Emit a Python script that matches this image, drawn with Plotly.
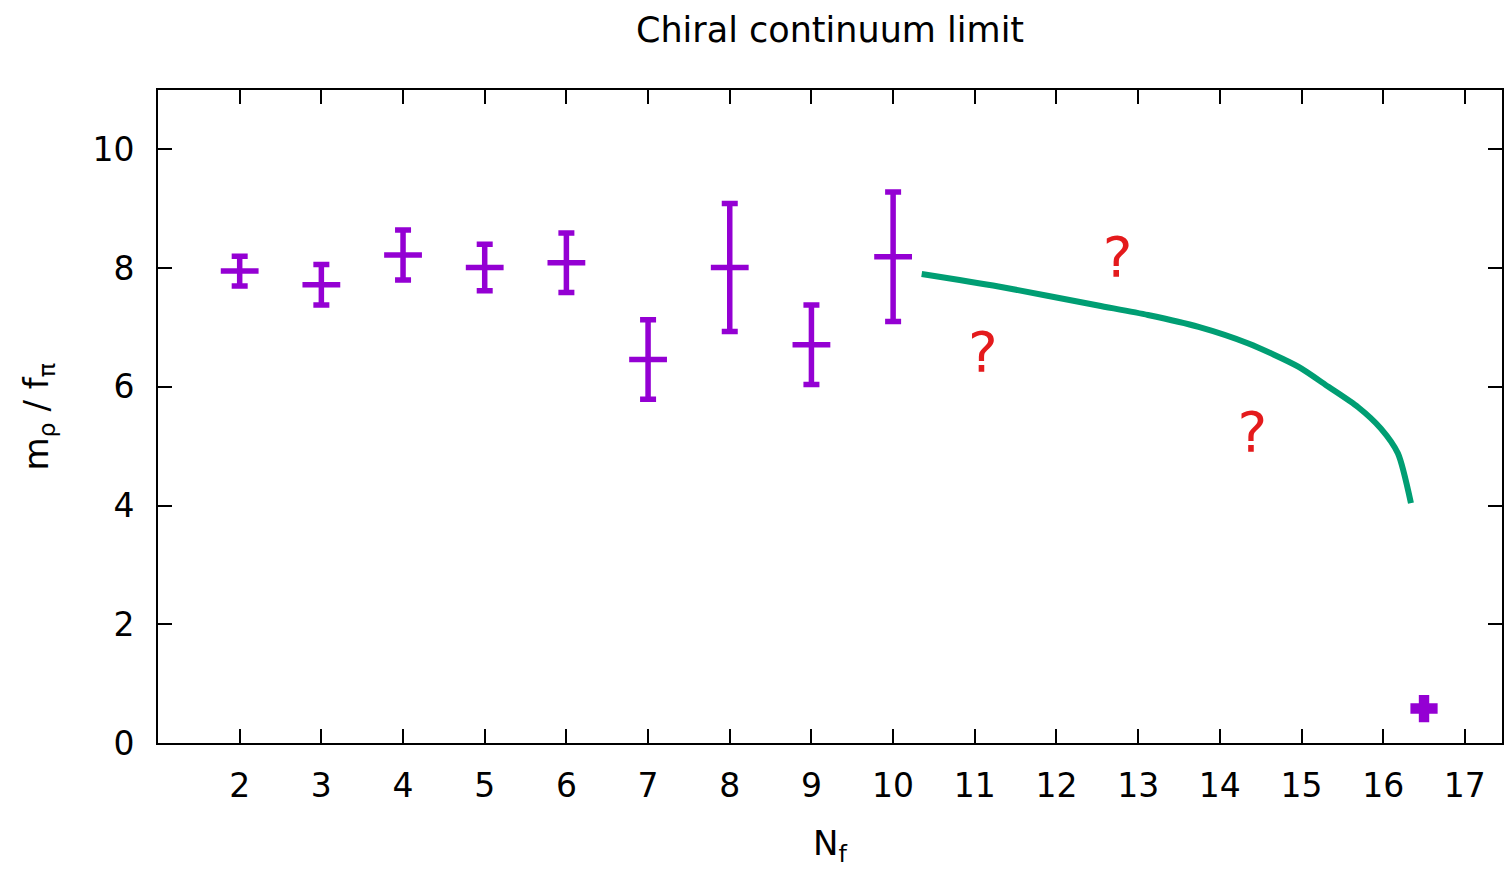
import plotly.graph_objects as go

# Lattice results: m_rho / f_pi versus number of flavours
nf = [2, 3, 4, 5, 6, 7, 8, 9, 10]
ratio = [7.95, 7.72, 8.22, 8.01, 8.09, 6.46, 8.01, 6.71, 8.19]
ratio_err = [0.25, 0.34, 0.42, 0.39, 0.50, 0.67, 1.08, 0.67, 1.09]

# Point near the conformal window edge
nf_edge = [16.5]
ratio_edge = [0.58]

# Perturbative / model curve
curve_nf = [10.35, 11.29, 12.51, 13.12, 13.74, 14.35, 14.96, 15.33, 15.69, 15.97, 16.18, 16.34]
curve_ratio = [7.90, 7.69, 7.37, 7.21, 7.01, 6.73, 6.34, 6.00, 5.66, 5.30, 4.88, 4.04]

# Question marks in the unexplored region
q_nf = [12.75, 11.1, 14.4]
q_ratio = [8.1, 6.5, 5.15]

x_ticks = list(range(2, 18))
y_ticks = [0, 2, 4, 6, 8, 10]

purple = "#9400D3"
green = "#009E73"
red = "#E41A1C"
font = "DejaVu Sans"

fig = go.Figure()

fig.add_trace(go.Scatter(
    x=nf, y=ratio, mode="markers",
    marker=dict(symbol="line-ew-open", size=27, color=purple,
                line=dict(color=purple, width=5.5)),
    error_y=dict(type="data", array=ratio_err, visible=True,
                 color=purple, thickness=5.5, width=8),
    showlegend=False,
))

fig.add_trace(go.Scatter(
    x=nf_edge, y=ratio_edge, mode="markers",
    marker=dict(symbol="cross", size=21, color=purple,
                line=dict(color=purple, width=2)),
    showlegend=False,
))

fig.add_trace(go.Scatter(
    x=curve_nf, y=curve_ratio, mode="lines",
    line=dict(color=green, width=6, shape="spline", smoothing=0.7),
    showlegend=False,
))

fig.add_trace(go.Scatter(
    x=q_nf, y=q_ratio, mode="text", text=["?"] * len(q_nf),
    textfont=dict(family=font, size=56, color=red),
    showlegend=False,
))

axis_common = dict(
    showgrid=False, zeroline=False, showline=True, linecolor="black",
    linewidth=2, mirror="allticks", ticks="inside", ticklen=14,
    tickwidth=2, tickcolor="black",
    tickfont=dict(family=font, size=33, color="black"),
)

fig.update_xaxes(range=[1, 1 + 1346 / 81.8], tickvals=x_ticks,
                 ticklabelstandoff=12, **axis_common)
fig.update_yaxes(range=[0, 11], tickvals=y_ticks,
                 ticklabelstandoff=15, **axis_common)

fig.update_layout(
    width=1504, height=869,
    margin=dict(l=158, r=0, t=90, b=126),
    plot_bgcolor="white", paper_bgcolor="white",
    font=dict(family=font, color="black"),
    annotations=[
        dict(text="Chiral continuum limit", xref="paper", yref="paper",
             x=0.5, y=1.092, xanchor="center", yanchor="middle",
             showarrow=False,
             font=dict(family=font, size=35, color="black")),
        dict(text="N<sub>f</sub>", xref="paper", yref="paper",
             x=0.5, y=-0.157, xanchor="center", yanchor="middle",
             showarrow=False,
             font=dict(family=font, size=34, color="black")),
        dict(text="m<sub>ρ</sub> / f<sub>π</sub>", xref="paper", yref="paper",
             x=-0.0892, y=0.5, xanchor="center", yanchor="middle",
             showarrow=False, textangle=-90,
             font=dict(family=font, size=34, color="black")),
    ],
)

fig.write_html("out.html")
